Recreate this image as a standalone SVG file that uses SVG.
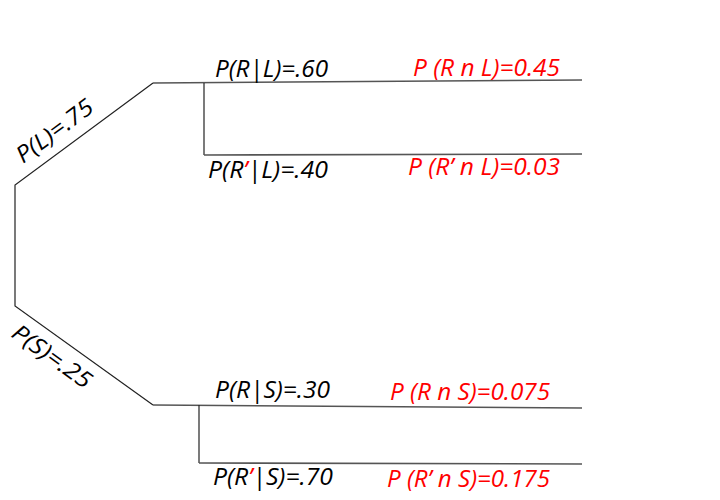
<svg xmlns="http://www.w3.org/2000/svg" width="720" height="500" viewBox="0 0 720 500">
<style>
.ln{stroke:#222;stroke-width:1.2;fill:none}
.hz{stroke:#555;stroke-width:1.6;fill:none}
.t{font-family:"Open Sans","Liberation Sans",sans-serif;font-style:italic;font-size:23px;fill:#000}
.r{font-family:"Open Sans","Liberation Sans",sans-serif;font-style:italic;font-size:23px;fill:#ff0000}
.red{fill:#ff0000}
</style>
<rect width="720" height="500" fill="#fff"/>
<g id="connectors">
<polyline class="ln" points="153,83 15,185 15,306 153,405"/>
<line class="hz" x1="153" y1="83" x2="582" y2="80"/>
<polyline class="ln" points="204,83 204,155"/>
<line class="hz" x1="204" y1="155" x2="582" y2="154"/>
<line class="hz" x1="153" y1="405" x2="582" y2="408"/>
<polyline class="ln" points="199,405 199,463"/>
<line class="hz" x1="199" y1="463" x2="582" y2="464"/>
</g>
<g id="L">
<text class="t" transform="translate(23,164) rotate(-36.5)" textLength="90" lengthAdjust="spacingAndGlyphs">P(L)=.75</text>
</g>
<g id="S">
<text class="t" transform="translate(10,336) rotate(35.6)" textLength="92" lengthAdjust="spacingAndGlyphs">P(S)=.25</text>
</g>
<g id="RL">
<text class="t" x="215" y="77" textLength="113" lengthAdjust="spacingAndGlyphs">P(R|L)=.60</text>
<text class="r" x="413" y="76" textLength="147" lengthAdjust="spacingAndGlyphs">P (R n L)=0.45</text>
</g>
<g id="RpL">
<text class="t" x="208" y="178" textLength="120" lengthAdjust="spacingAndGlyphs">P(R<tspan class="red">’</tspan>|L)=.40</text>
<text class="r" x="408" y="175" textLength="152" lengthAdjust="spacingAndGlyphs">P (R’ n L)=0.03</text>
</g>
<g id="RS">
<text class="t" x="215" y="398" textLength="115" lengthAdjust="spacingAndGlyphs">P(R|S)=.30</text>
<text class="r" x="390" y="400" textLength="160" lengthAdjust="spacingAndGlyphs">P (R n S)=0.075</text>
</g>
<g id="RpS">
<text class="t" x="213" y="485" textLength="120" lengthAdjust="spacingAndGlyphs">P(R<tspan class="red">’</tspan>|S)=.70</text>
<text class="r" x="387" y="487" textLength="163" lengthAdjust="spacingAndGlyphs">P (R’ n S)=0.175</text>
</g>
</svg>
